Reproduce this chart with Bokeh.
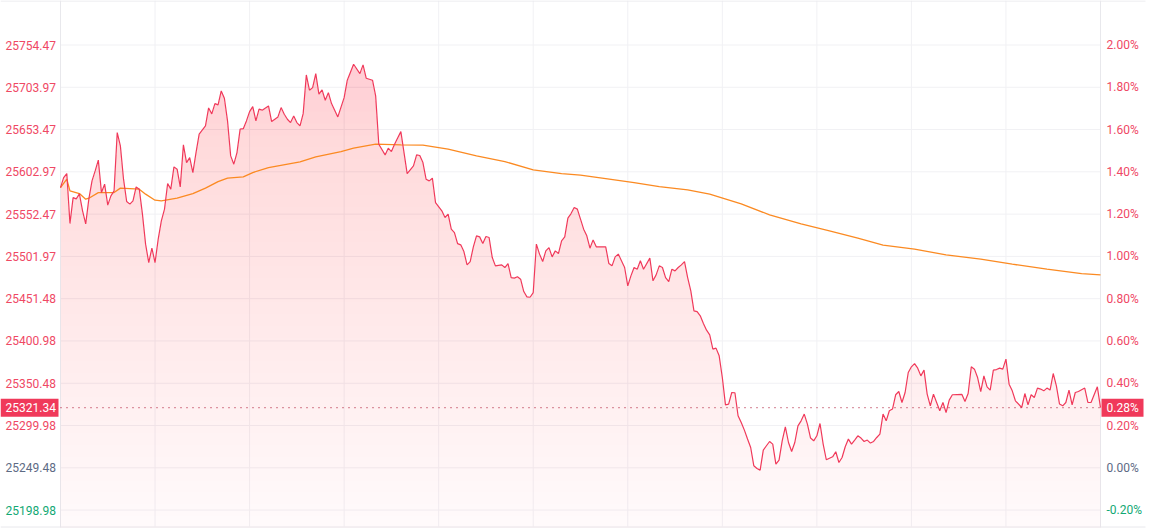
import numpy as np
from bokeh.plotting import figure
from bokeh.models import Range1d, ColumnDataSource
from bokeh.embed import file_html
from bokeh.resources import INLINE
from bokeh.core.properties import value

# ---------------- data ----------------
prev_close = 25249.48
last_price = 25321.34

minutes = [0, 1, 2, 3, 4, 5, 6, 7, 8, 9, 10, 11, 12, 13, 14, 15, 16, 17, 18, 19, 20, 21, 22, 23, 24, 25,
           26, 27, 28, 29, 30, 31, 32, 33, 34, 35, 36, 37, 38, 39, 40, 41, 42, 43, 44, 46, 47, 48, 49, 50,
           51, 52, 53, 54, 55, 56, 57, 58, 59, 60, 61, 62, 63, 64, 66, 67, 69, 70, 71, 72, 73, 74, 75, 76,
           77, 78, 79, 80, 81, 82, 83, 84, 85, 86, 88, 90, 91, 93, 95, 96, 97, 99, 100, 101, 103, 104, 105,
           106, 108, 110, 112, 113, 114, 115, 116, 117, 118, 119, 121, 122, 123, 124, 125, 126, 127, 128,
           129, 130, 131, 132, 133, 134, 135, 136, 137, 138, 140, 141, 142, 143, 144, 145, 146, 147, 148,
           149, 150, 151, 152, 153, 154, 155, 156, 157, 158, 159, 160, 161, 162, 163, 164, 165, 166, 167,
           168, 169, 170, 173, 174, 175, 176, 177, 179, 180, 181, 182, 183, 184, 185, 187, 188, 189, 190,
           191, 192, 193, 194, 195, 196, 197, 198, 199, 200, 201, 202, 203, 204, 205, 206, 207, 208, 209,
           210, 211, 212, 213, 214, 215, 216, 217, 218, 219, 220, 221, 222, 223, 224, 225, 226, 227, 228,
           229, 230, 231, 232, 233, 234, 235, 236, 237, 238, 239, 240, 241, 242, 243, 245, 246, 247, 248,
           249, 250, 251, 252, 253, 254, 255, 256, 257, 258, 259, 260, 261, 262, 263, 264, 265, 266, 267,
           268, 269, 270, 271, 272, 273, 274, 275, 276, 277, 278, 279, 280, 281, 282, 283, 286, 287, 288,
           289, 290, 291, 292, 293, 294, 295, 296, 297, 298, 299, 300, 301, 302, 303, 305, 306, 307, 308,
           309, 310, 311, 312, 313, 314, 315, 316, 317, 318, 319, 320, 321, 322, 323, 325, 326, 327, 329, 330]

prices = [25584.2, 25596.1, 25600.9, 25541.2, 25572.2, 25570.7, 25576.7, 25556.4, 25540.8, 25570.7,
          25592.2, 25604.1, 25616.9, 25578.2, 25588.2, 25563.2, 25574.3, 25580.2, 25649.9, 25634.0,
          25594.2, 25567.5, 25564.4, 25568.3, 25585.0, 25582.3, 25552.4, 25516.6, 25494.6, 25511.8,
          25494.6, 25522.6, 25544.4, 25558.4, 25589.0, 25582.3, 25608.9, 25606.1, 25585.0, 25635.2,
          25614.0, 25620.0, 25602.1, 25626.0, 25647.9, 25657.8, 25679.3, 25672.2, 25684.5, 25682.9,
          25699.6, 25690.9, 25663.8, 25622.0, 25612.1, 25626.0, 25653.9, 25654.5, 25663.8, 25674.9,
          25680.9, 25663.8, 25677.8, 25676.6, 25681.7, 25663.0, 25668.6, 25679.7, 25671.8, 25665.8,
          25661.8, 25669.8, 25661.8, 25657.8, 25672.5, 25718.7, 25700.5, 25703.6, 25720.3, 25695.7,
          25700.8, 25688.5, 25697.6, 25684.5, 25668.6, 25691.6, 25712.4, 25731.5, 25720.3, 25730.7,
          25714.8, 25712.4, 25693.7, 25636.0, 25623.2, 25631.2, 25627.2, 25636.0, 25651.0, 25600.9,
          25610.1, 25623.2, 25622.5, 25614.0, 25594.2, 25592.2, 25595.4, 25566.3, 25556.4, 25548.4,
          25552.4, 25534.5, 25530.4, 25517.3, 25515.8, 25507.8, 25491.9, 25495.8, 25513.4, 25526.5,
          25525.3, 25517.3, 25525.7, 25524.5, 25500.6, 25490.7, 25491.9, 25488.7, 25493.4, 25476.7,
          25476.0, 25477.6, 25474.8, 25460.0, 25453.7, 25453.2, 25458.8, 25516.6, 25504.7, 25495.8,
          25508.6, 25512.5, 25501.4, 25508.6, 25505.4, 25520.5, 25525.3, 25547.6, 25553.1, 25560.3,
          25558.4, 25546.5, 25534.5, 25526.5, 25511.8, 25521.7, 25513.4, 25513.4, 25493.4, 25490.7,
          25501.4, 25504.7, 25488.7, 25466.8, 25478.7, 25488.7, 25486.7, 25496.7, 25486.7, 25499.9,
          25472.8, 25479.9, 25490.7, 25488.7, 25476.7, 25471.9, 25486.7, 25484.7, 25488.7, 25491.9,
          25495.8, 25476.7, 25460.8, 25437.0, 25436.1, 25431.0, 25421.8, 25413.9, 25408.3, 25391.2,
          25392.4, 25383.2, 25357.3, 25324.7, 25325.6, 25339.4, 25339.1, 25311.6, 25303.6, 25294.5,
          25283.8, 25273.7, 25251.9, 25248.7, 25246.7, 25270.6, 25275.8, 25280.9, 25277.8, 25253.9,
          25258.7, 25281.7, 25298.5, 25279.7, 25269.0, 25279.7, 25299.6, 25305.6, 25313.6, 25301.7,
          25285.0, 25281.7, 25287.7, 25302.4, 25277.8, 25259.1, 25262.6, 25268.6, 25255.8, 25261.8,
          25274.6, 25283.8, 25277.8, 25282.6, 25287.7, 25285.0, 25280.9, 25282.6, 25279.0, 25280.9,
          25285.7, 25289.7, 25313.6, 25305.6, 25317.6, 25319.6, 25336.7, 25340.6, 25327.5, 25339.4,
          25363.3, 25370.1, 25374.0, 25368.5, 25359.3, 25366.2, 25337.5, 25323.5, 25337.5, 25327.5,
          25317.6, 25327.5, 25315.5, 25330.3, 25336.7, 25337.2, 25328.7, 25338.2, 25370.1, 25367.3,
          25357.3, 25340.6, 25359.3, 25346.2, 25342.3, 25366.2, 25366.8, 25368.5, 25367.3, 25379.3,
          25349.4, 25341.4, 25329.5, 25321.5, 25338.2, 25324.7, 25336.7, 25333.4, 25344.7, 25343.5,
          25341.4, 25344.7, 25342.3, 25362.1, 25347.4, 25325.6, 25323.5, 25327.5, 25342.3, 25324.7,
          25339.4, 25340.6, 25344.7, 25327.5, 25327.5, 25346.2, 25321.34]

avg_minutes = [0, 2, 3, 6, 8, 9, 12, 17, 19, 25, 27, 30, 32, 37, 42, 46, 50, 53, 58, 61, 66, 76, 81, 89,
               93, 100, 108, 115, 123, 132, 141, 150, 159, 165, 173, 182, 190, 199, 206, 216, 225, 235,
               244, 253, 261, 271, 281, 292, 302, 313, 324, 330]
avg_prices = [25584.2, 25594.2, 25580.2, 25577.0, 25570.3, 25571.5, 25578.2, 25578.2, 25583.5, 25582.3,
              25576.3, 25569.1, 25568.3, 25571.5, 25577.0, 25583.5, 25591.3, 25595.4, 25597.0, 25602.1,
              25608.1, 25614.9, 25620.8, 25627.2, 25631.2, 25636.0, 25635.2, 25634.8, 25630.0, 25622.0,
              25615.2, 25605.3, 25600.9, 25599.0, 25594.9, 25590.1, 25585.4, 25581.4, 25576.3, 25564.7,
              25551.6, 25540.8, 25532.5, 25523.8, 25515.4, 25510.6, 25503.8, 25498.7, 25492.7, 25486.7,
              25481.5, 25479.9]

y_ticks = [25198.98, 25249.48, 25299.98, 25350.48, 25400.98, 25451.48, 25501.97, 25552.47,
           25602.97, 25653.47, 25703.97, 25754.47]
y_tick_labels = ["25198.98", "25249.48", "25299.98", "25350.48", "25400.98", "25451.48", "25501.97",
                 "25552.47", "25602.97", "25653.47", "25703.97", "25754.47"]
pct_tick_labels = ["-0.20%", "0.00%", "0.20%", "0.40%", "0.60%", "0.80%", "1.00%", "1.20%",
                   "1.40%", "1.60%", "1.80%", "2.00%"]
x_grid_minutes = [30, 60, 90, 120, 150, 180, 210, 240, 270, 300]
session_minutes = 330
last_price_label = "25321.34"
last_pct_label = "0.28%"

# ---------------- layout / styles ----------------
W, H = 1155, 528
FRAME_L, FRAME_R = 60, 1100          # pixel columns of minute 0 and the last minute
s = (FRAME_R - FRAME_L) / session_minutes
x_lo = -FRAME_L / s
x_hi = session_minutes + (W - FRAME_R) / s
PX_PREV, PX_TOP = 467.3, 44.5         # pixel rows of the previous-close tick and top tick
k = (y_ticks[-1] - prev_close) / (PX_PREV - PX_TOP)
y_hi = prev_close + PX_PREV * k
y_lo = y_hi - H * k


def X(px):
    return x_lo + px / s


def Y(py):
    return y_hi - py * k


RED = "#f0395a"
ORANGE = "#fb8a22"
GRID = "#f1f1f4"
BORDER = "#e8e8ec"
UP_TXT = "#ef4864"
FLAT_TXT = "#5d6a84"
DOWN_TXT = "#12a874"
FONT = value("Roboto")

p = figure(width=W, height=H, output_backend="svg", toolbar_location=None,
           x_range=Range1d(x_lo, x_hi), y_range=Range1d(y_lo, y_hi),
           x_axis_type=None, y_axis_type=None, min_border=0,
           outline_line_color=None, background_fill_color="white", border_fill_color="white")
p.grid.visible = False

# grid
p.segment(x0=0, x1=session_minutes, y0=y_ticks, y1=y_ticks, line_color=GRID, line_width=1)
p.segment(x0=x_grid_minutes, x1=x_grid_minutes, y0=Y(526), y1=Y(0), line_color=GRID, line_width=1)
# frame borders
p.segment(x0=[0, session_minutes], x1=[0, session_minutes], y0=Y(527), y1=Y(0),
          line_color=BORDER, line_width=1)
p.segment(x0=X(0), x1=X(1145), y0=[Y(526.5), Y(0.5)], y1=[Y(526.5), Y(0.5)],
          line_color=BORDER, line_width=1)

# gradient-like area under the price line (stacked translucent layers)
mins = np.array(minutes, dtype=float)
pr = np.array(prices, dtype=float)
a_bot, a_top = 0.025, 0.24
n_layers = 40
levels = np.linspace(y_lo, pr.max(), n_layers)
prev_A = 0.0
for L in levels:
    A = a_bot + (a_top - a_bot) * (L - y_lo) / (y_hi - y_lo)
    a = 1 - (1 - A) / (1 - prev_A)
    prev_A = A
    p.varea(x=mins, y1=np.full_like(pr, L), y2=np.maximum(pr, L), fill_color=RED, fill_alpha=a)

# average line and price line
p.line(avg_minutes, avg_prices, line_color=ORANGE, line_width=1.3)
p.line(minutes, prices, line_color=RED, line_width=1.2)

# last price dotted line
p.segment(x0=0, x1=session_minutes, y0=last_price, y1=last_price, line_color="#b8344f",
          line_width=1.2, line_dash="1 5")

# axis labels
def col(v):
    if abs(v - prev_close) < 1e-6:
        return FLAT_TXT
    return UP_TXT if v > prev_close else DOWN_TXT


colors = [col(v) for v in y_ticks]
lab_src = ColumnDataSource(dict(y=y_ticks, txt=y_tick_labels, pct=pct_tick_labels, c=colors))
p.text(x=X(5), y="y", text="txt", text_color="c", source=lab_src, text_font=FONT,
       text_font_size="12px", text_align="left", text_baseline="middle")
p.text(x=X(1106), y="y", text="pct", text_color="c", source=lab_src, text_font=FONT,
       text_font_size="12px", text_align="left", text_baseline="middle")

# last price badges
half = 9 * k
p.quad(left=X(0), right=X(58), bottom=last_price - half, top=last_price + half,
       fill_color=RED, line_color=None)
p.quad(left=X(1101), right=X(1143), bottom=last_price - half, top=last_price + half,
       fill_color=RED, line_color=None)
p.text(x=[X(5)], y=[last_price], text=[last_price_label], text_color="white", text_font=FONT,
       text_font_size="12px", text_align="left", text_baseline="middle")
p.text(x=[X(1106)], y=[last_price], text=[last_pct_label], text_color="white",
       text_font=FONT, text_font_size="12px", text_align="left", text_baseline="middle")

open("out.html", "w").write(file_html(p, INLINE))
